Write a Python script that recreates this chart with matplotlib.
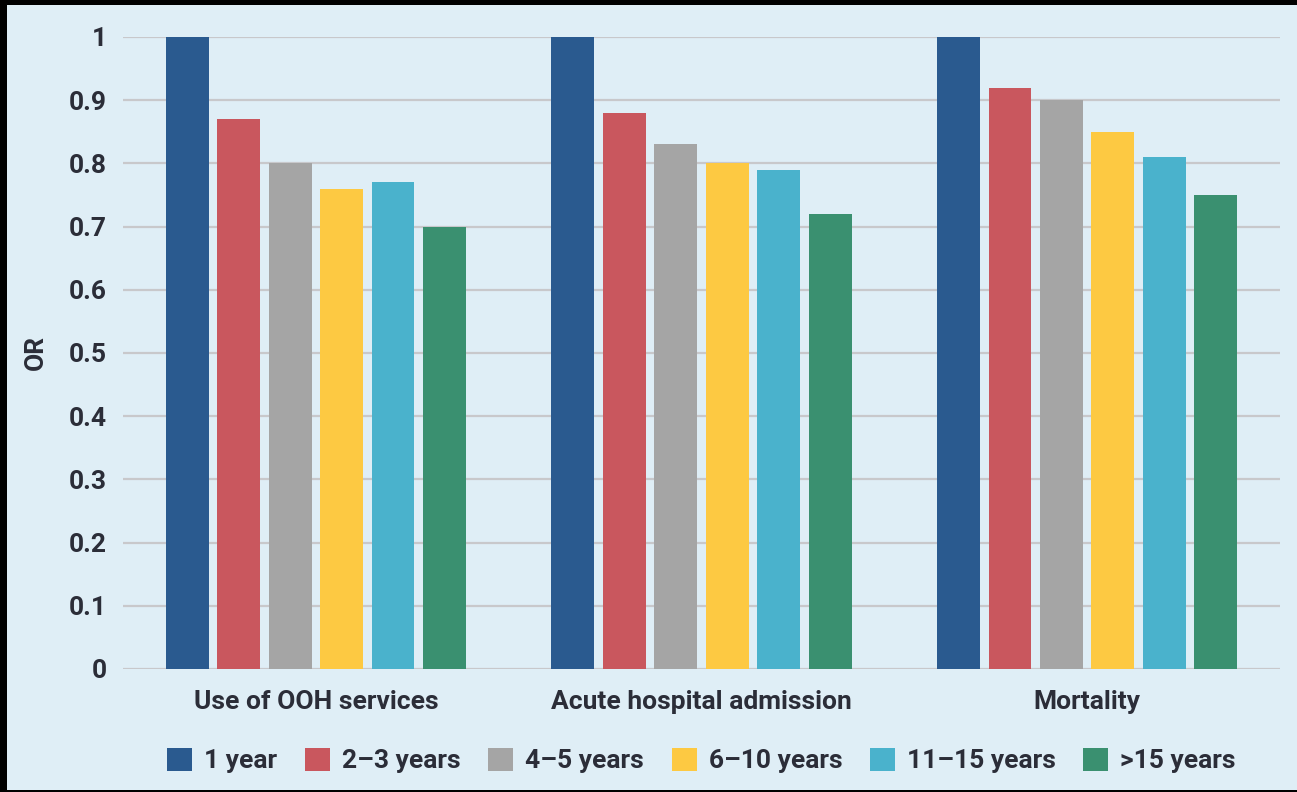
import numpy as np
import matplotlib.pyplot as plt
from matplotlib.patches import Rectangle

# Odds ratios by length of continuity with the same GP
outcomes = ['Use of OOH services', 'Acute hospital admission', 'Mortality']
durations = ['1 year', '2–3 years', '4–5 years', '6–10 years', '11–15 years', '>15 years']
or_ooh = [1.00, 0.87, 0.80, 0.76, 0.77, 0.70]
or_admission = [1.00, 0.88, 0.83, 0.80, 0.79, 0.72]
or_mortality = [1.00, 0.92, 0.90, 0.85, 0.81, 0.75]
colors = ['#2a5a8f', '#c9575e', '#a5a5a5', '#fdc942', '#4ab2cc', '#3a9070']

plt.rcParams['font.family'] = ['Roboto', 'DejaVu Sans']
plt.rcParams['font.weight'] = 'bold'
text_col = '#2b2d38'
panel_col = '#dfeef6'
fs = 19

fig = plt.figure(figsize=(12.97, 7.92), dpi=100, facecolor='black')
# light panel behind the chart
fig.patches.append(Rectangle((7 / 1297, 2 / 792), 1 - 7 / 1297, 1 - 7 / 792,
                             transform=fig.transFigure, facecolor=panel_col,
                             edgecolor='none', zorder=-10))

ax = fig.add_axes([123 / 1297, 1 - 669 / 792, 1157 / 1297, 632 / 792])
ax.set_facecolor('none')

values = np.array([or_ooh, or_admission, or_mortality])
x = np.arange(len(outcomes))
pitch = 0.1334
width = 0.111
for i, label in enumerate(durations):
    offs = (i - (len(durations) - 1) / 2) * pitch
    ax.bar(x + offs, values[:, i], width=width, color=colors[i],
           label=label, zorder=3)

ax.set_xlim(-0.5, 2.5)
ax.set_ylim(0, 1)
ax.set_yticks(np.arange(0, 1.01, 0.1))
ax.set_yticklabels(['0'] + ['%.1f' % v for v in np.arange(0.1, 0.95, 0.1)] + ['1'])
ax.yaxis.grid(True, color='#c8c8cb', linewidth=1.6, zorder=0)
ax.set_axisbelow(True)
for s in ax.spines.values():
    s.set_visible(False)
ax.tick_params(axis='both', length=0, labelsize=fs, labelcolor=text_col)
ax.tick_params(axis='y', pad=11.5)
ax.tick_params(axis='x', pad=15)
ax.set_xticks(x)
ax.set_xticklabels(outcomes)

# axis title on the far left
fig.text(36 / 1297, 1 - 352 / 792, 'OR', rotation=90, ha='center', va='center',
         fontsize=fs, fontweight='bold', color=text_col)

leg = ax.legend(loc='center', bbox_to_anchor=(0.5, -0.145), ncol=6,
                frameon=False, fontsize=fs, handlelength=0.95, handleheight=0.95,
                handletextpad=0.45, columnspacing=1.05, borderpad=0)
for t in leg.get_texts():
    t.set_color(text_col)

fig.savefig('out.png', dpi=100, facecolor=fig.get_facecolor())
